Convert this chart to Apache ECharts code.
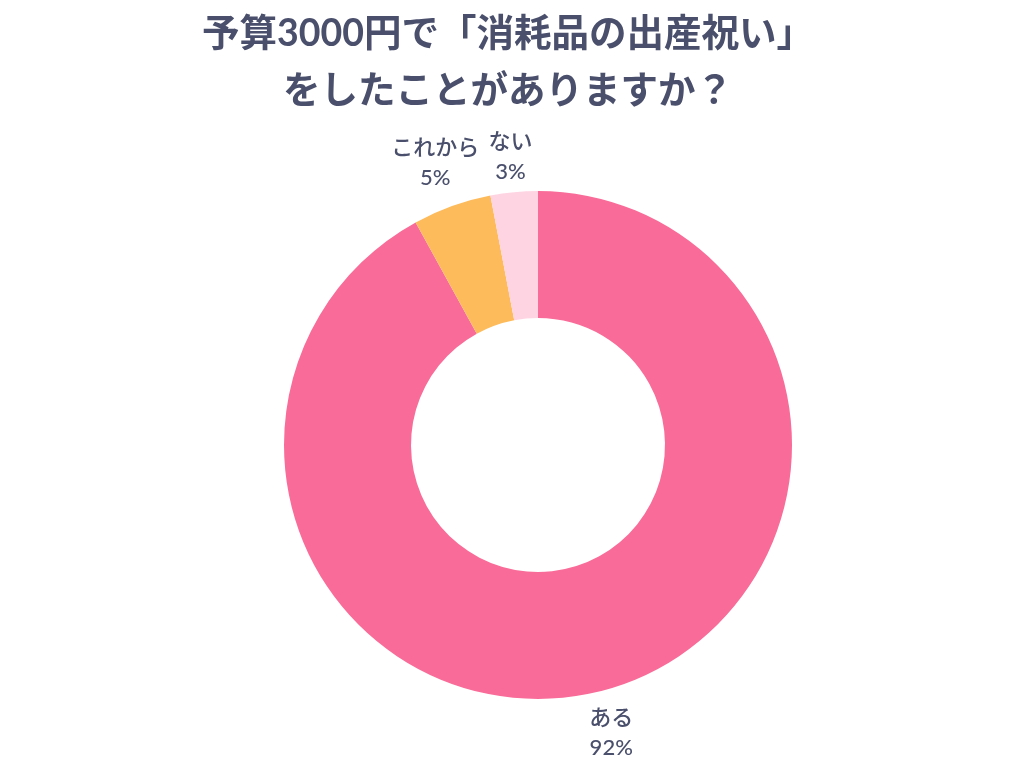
<!DOCTYPE html>
<html><head><meta charset="utf-8">
<script src="https://cdn.jsdelivr.net/npm/echarts@6/dist/echarts.min.js"></script>
<style>html,body{margin:0;padding:0;background:#fff}#c{width:1024px;height:768px}</style>
</head><body><div id="c"></div>
<script>
const titleLines = ['予算3000円で「消耗品の出産祝い」', 'をしたことがありますか？'];
const categories = ['ある', 'これから', 'ない'];
const values = [92, 5, 3];
const colors = ['#F96B98', '#FDBB5B', '#FFD4E2'];

const CX = 538, CY = 445, R_OUT = 254, R_IN = 127, GAP = 6;
const FONT = "Lato, 'Noto Sans CJK JP', sans-serif";
const total = values.reduce((a, b) => a + b, 0);
function midAngle(i) {
  let cum = 0;
  for (let k = 0; k < i; k++) cum += values[k];
  return (90 - 360 * (cum + values[i] / 2) / total) * Math.PI / 180;
}

const chart = echarts.init(document.getElementById('c'));
chart.setOption({
  animation: false,
  title: {
    text: titleLines.join('\n'),
    left: 503,
    textAlign: 'center',
    top: 0,
    textStyle: { fontFamily: FONT, fontSize: 37.5, fontWeight: 'bold', color: '#4a4f6c', lineHeight: 57 }
  },
  series: [{
    type: 'pie',
    center: [CX, CY],
    radius: [R_IN, R_OUT],
    startAngle: 90,
    clockwise: true,
    avoidLabelOverlap: false,
    data: categories.map((n, i) => ({ name: n, value: values[i], itemStyle: { color: colors[i] } })),
    label: {
      show: true,
      position: 'outside',
      formatter: p => p.name + '\n' + p.value + '%',
      fontFamily: FONT,
      fontSize: 22,
      fontWeight: 500,
      lineHeight: 30,
      color: '#4a4f6c',
      align: 'center'
    },
    labelLine: { show: false },
    emphasis: { disabled: true },
    labelLayout: function (p) {
      const a = midAngle(p.dataIndex);
      const dx = Math.cos(a), dy = -Math.sin(a);
      const w = p.labelRect.width, h = p.labelRect.height;
      const R = R_OUT + GAP + Math.abs(dx) * w / 2 + Math.abs(dy) * h / 2;
      return { x: CX + R * dx, y: CY + R * dy + 3, align: 'center', verticalAlign: 'middle' };
    }
  }]
});
</script>
</body></html>
